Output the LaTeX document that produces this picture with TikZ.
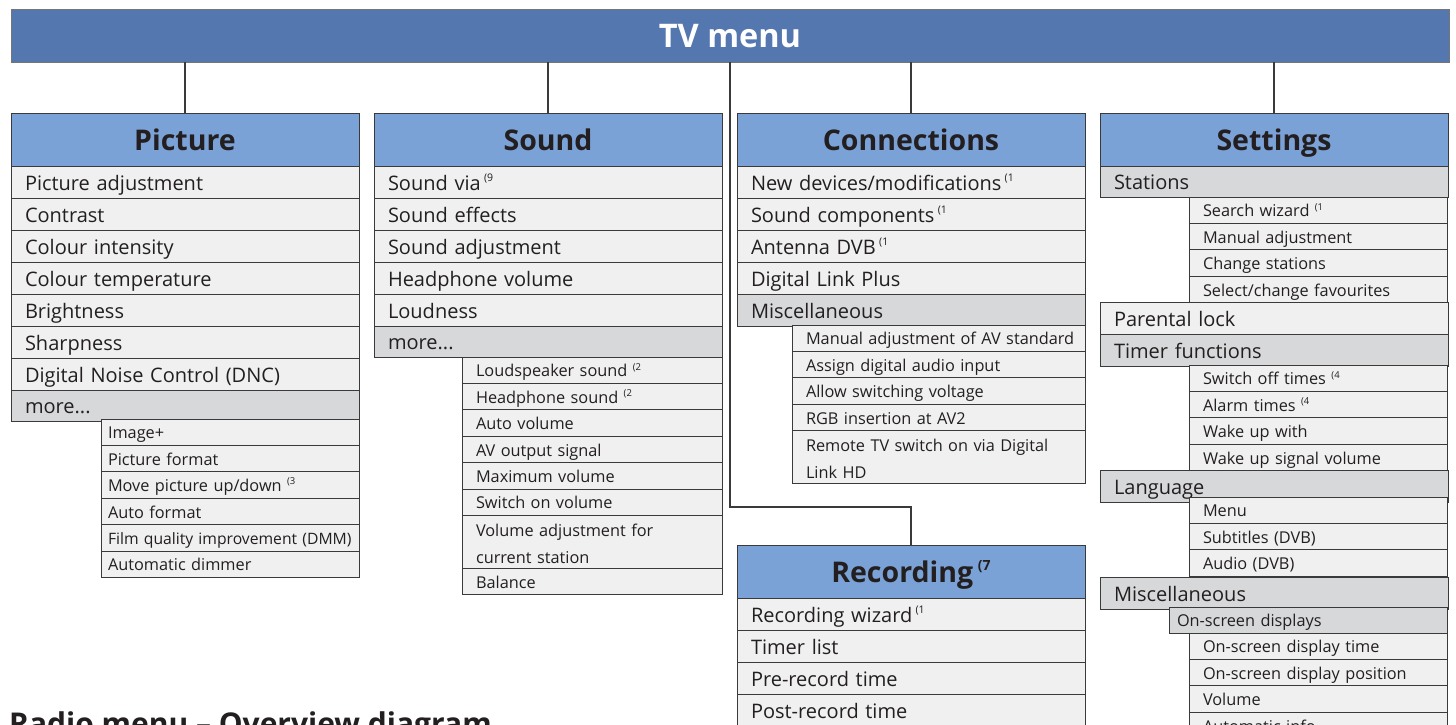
\documentclass[tikz,border=0pt]{standalone}
\usepackage{fontspec}
\setmainfont{Open Sans}
\usetikzlibrary{calc}
\definecolor{topblue}{HTML}{5577AF}
\definecolor{hdrblue}{HTML}{7BA2D7}
\definecolor{rowfill}{HTML}{F0F0F0}
\definecolor{grayfill}{HTML}{D7D8DA}
\definecolor{linec}{HTML}{3A3A3A}
\definecolor{txt}{HTML}{231F20}
\newcommand\supn[2][10.5]{\raisebox{0.42em}{\fontsize{#1}{#1}\selectfont(#2}}
\begin{document}
\begin{tikzpicture}[x=1pt,y=-1pt,
  rbox/.style={draw=linec,line width=1pt,anchor=north west,outer sep=0pt,inner ysep=0pt,text=txt},
  oneline/.style={execute at begin node={\hbox\bgroup},execute at end node={\egroup}},
  hdr/.style={rbox,fill=hdrblue,minimum height=53pt,minimum width=348pt,inner xsep=0pt,
    font=\bfseries\fontsize{28.5}{30}\selectfont,text height=21pt,text depth=0pt},
  mrow/.style={rbox,oneline,fill=rowfill,minimum height=32pt,inner xsep=14pt,text width=320pt,align=left,
    font=\fontsize{20}{24}\selectfont,text height=18pt,text depth=2pt},
  mgray/.style={mrow,fill=grayfill},
  srow/.style={rbox,oneline,fill=rowfill,minimum height=26.4pt,inner xsep=14pt,text width=#1,align=left,
    font=\fontsize{16.3}{27}\selectfont,text height=14.75pt,text depth=1.25pt},
  srow/.default=230pt,
  psrow/.style={srow=244pt,inner xsep=7pt},
  sgray/.style={srow=#1,fill=grayfill},
  drow/.style={rbox,fill=rowfill,minimum height=52.8pt,inner xsep=14pt,text width=#1,align=left,
    font=\fontsize{16.3}{27}\selectfont,text height=16pt,text depth=27pt},
  conn/.style={draw=linec,line width=2pt}]
\useasboundingbox (0,0) rectangle (1456,724);
\clip (0,0) rectangle (1456,724);

% top bar
\node[rbox,fill=topblue,draw=linec!70,minimum width=1438pt,minimum height=53pt,inner sep=0pt,
  text=white,font=\bfseries\fontsize{32.5}{34}\selectfont,text height=23pt,text depth=0pt] (tv) at (11,9) {TV menu};

% ---------------- Picture
\node[hdr] (pich) at (11,113) {Picture};
\node[mrow] (p1) at (11,166) {Picture adjustment};
\node[mrow] (p2) at (11,198) {Contrast};
\node[mrow] (p3) at (11,230) {Colour intensity};
\node[mrow] (p4) at (11,262) {Colour temperature};
\node[mrow] (p5) at (11,294) {Brightness};
\node[mrow] (p6) at (11,326) {Sharpness};
\node[mrow] (p7) at (11,358) {Digital Noise Control (DNC)};
\node[mgray,minimum height=31pt] (p8) at (11,390) {more...};
\node[psrow] (ps1) at (101,419) {Image+};
\node[psrow] (ps2) at (101,445.4) {Picture format};
\node[psrow] (ps3) at (101,471.8) {Move picture up/down \supn[9.5]{3}};
\node[psrow] (ps4) at (101,498.2) {Auto format};
\node[psrow,font=\fontsize{15.7}{27}\selectfont] (ps5) at (101,524.6) {Film quality improvement (DMM)};
\node[psrow] (ps6) at (101,551) {Automatic dimmer};

% ---------------- Sound
\node[hdr] (soh) at (374,113) {Sound};
\node[mrow] (s1) at (374,166) {Sound via\,\supn{9}};
\node[mrow] (s2) at (374,198) {Sound effects};
\node[mrow] (s3) at (374,230) {Sound adjustment};
\node[mrow] (s4) at (374,262) {Headphone volume};
\node[mrow] (s5) at (374,294) {Loudness};
\node[mgray,minimum height=31pt] (s6) at (374,326) {more...};
\node[srow=232pt] (ss1) at (462,357) {Loudspeaker sound \supn[9.5]{2}};
\node[srow=232pt] (ss2) at (462,383.4) {Headphone sound \supn[9.5]{2}};
\node[srow=232pt] (ss3) at (462,409.8) {Auto volume};
\node[srow=232pt] (ss4) at (462,436.2) {AV output signal};
\node[srow=232pt] (ss5) at (462,462.6) {Maximum volume};
\node[srow=232pt] (ss6) at (462,489) {Switch on volume};
\node[drow=232pt] (ss7) at (462,515.4) {Volume adjustment for\\current station};
\node[srow=232pt] (ss8) at (462,568.2) {Balance};

% ---------------- Connections
\node[hdr] (coh) at (737,113) {Connections};
\node[mrow] (c1) at (737,166) {New devices/modifications\,\supn{1}};
\node[mrow] (c2) at (737,198) {Sound components\,\supn{1}};
\node[mrow] (c3) at (737,230) {Antenna DVB\,\supn{1}};
\node[mrow] (c4) at (737,262) {Digital Link Plus};
\node[mgray] (c5) at (737,294) {Miscellaneous};
\node[srow=265pt] (cs1) at (792,325) {Manual adjustment of AV standard};
\node[srow=265pt] (cs2) at (792,351.4) {Assign digital audio input};
\node[srow=265pt] (cs3) at (792,377.8) {Allow switching voltage};
\node[srow=265pt] (cs4) at (792,404.2) {RGB insertion at AV2};
\node[drow=265pt] (cs5) at (792,430.6) {Remote TV switch on via Digital\\Link HD};

% ---------------- Recording
\node[hdr] (rech) at (737,545) {Recording\,\supn[14]{7}};
\node[mrow] (r1) at (737,598) {Recording wizard\,\supn{1}};
\node[mrow] (r2) at (737,630) {Timer list};
\node[mrow] (r3) at (737,662) {Pre-record time};
\node[mrow] (r4) at (737,694) {Post-record time};

% ---------------- Settings
\node[hdr] (seh) at (1100,113) {Settings};
\node[mgray,minimum height=31pt] (e1) at (1100,166) {Stations};
\node[srow] (es1) at (1189,197) {Search wizard \supn[9.5]{1}};
\node[srow] (es2) at (1189,223.4) {Manual adjustment};
\node[srow] (es3) at (1189,249.8) {Change stations};
\node[srow] (es4) at (1189,276.2) {Select/change favourites};
\node[mrow] (e2) at (1100,302.6) {Parental lock};
\node[mgray] (e3) at (1100,334.6) {Timer functions};
\node[srow] (et1) at (1189,365) {Switch off times \supn[9.5]{4}};
\node[srow] (et2) at (1189,391.4) {Alarm times \supn[9.5]{4}};
\node[srow] (et3) at (1189,417.8) {Wake up with};
\node[srow] (et4) at (1189,444.2) {Wake up signal volume};
\node[mgray] (e4) at (1100,470) {Language};
\node[srow] (el1) at (1189,497) {Menu};
\node[srow] (el2) at (1189,523.4) {Subtitles (DVB)};
\node[srow] (el3) at (1189,549.8) {Audio (DVB)};
\node[mgray] (e5) at (1100,577) {Miscellaneous};
\node[sgray=262pt,inner xsep=8pt,minimum height=26pt] (em0) at (1169,607) {On-screen displays};
\node[srow] (em1) at (1189,633) {On-screen display time};
\node[srow] (em2) at (1189,659.4) {On-screen display position};
\node[srow] (em3) at (1189,685.8) {Volume};
\node[srow] (em4) at (1189,712.2) {Automatic info};

% ---------------- connectors
\draw[conn] (pich.north) -- (pich.north |- tv.south);
\draw[conn] (soh.north) -- (soh.north |- tv.south);
\draw[conn] (coh.north) -- (coh.north |- tv.south);
\draw[conn] (seh.north) -- (seh.north |- tv.south);
\coordinate (recjoin) at (rech.north |- 0,507);
\draw[conn] (tv.south) |- (recjoin) -- (rech.north);

% ---------------- bottom title (cut off by the page edge, as in the reference)
\node[anchor=base west,inner sep=0pt,text=txt,font=\bfseries\fontsize{30}{32}\selectfont] (radio) at (9,734) {Radio menu -- Overview diagram};
\end{tikzpicture}
\end{document}
